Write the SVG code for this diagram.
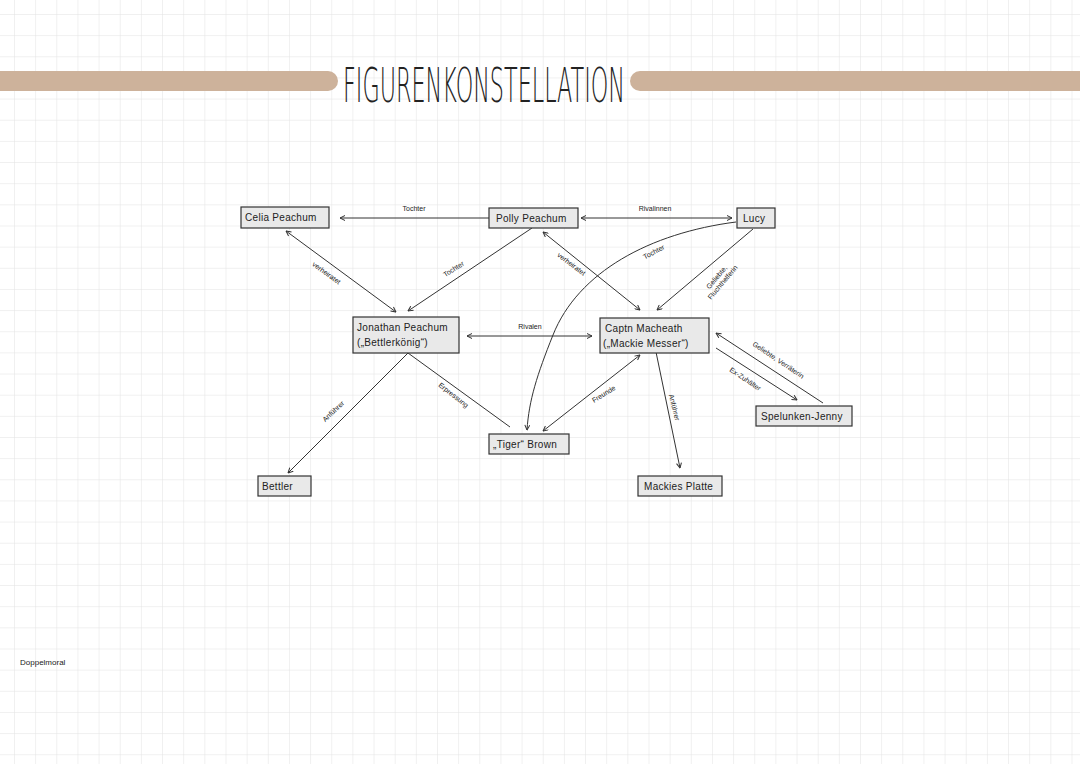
<svg xmlns="http://www.w3.org/2000/svg" width="1080" height="764" viewBox="0 0 1080 764">
<defs>
<pattern id="grid" patternUnits="userSpaceOnUse" x="14" y="14" width="21.15" height="21.15">
<path d="M0 0 H21.15 M0 0 V21.15" stroke="#e2e2e2" stroke-width="1" fill="none"/>
</pattern>
<marker id="ah" viewBox="0 0 6 6" refX="5.5" refY="3" markerWidth="6" markerHeight="6" markerUnits="userSpaceOnUse" orient="auto-start-reverse">
<path d="M0.5 0.5 L5.5 3 L0.5 5.5" fill="none" stroke="#333" stroke-width="1"/>
</marker>
<style>
.box{fill:#e9e9e9;stroke:#333;stroke-width:1.2}
.nt{font-family:"Liberation Sans",Arial,sans-serif;font-size:10px;fill:#222;letter-spacing:0.3px}
.lb{font-family:"Liberation Sans",Arial,sans-serif;font-size:7px;fill:#222;text-anchor:middle}
.ln{fill:none;stroke:#333;stroke-width:1}
.band{fill:#cdb29b}
</style>
</defs>
<rect width="1080" height="764" fill="#ffffff"/>
<rect width="1080" height="764" fill="url(#grid)"/>
<g id="header">
<path class="band" d="M0 71 H328 A10 10 0 0 1 328 91 H0 Z"/>
<path class="band" d="M1080 71 H640 A10 10 0 0 0 640 91 H1080 Z"/>
<text x="343" y="102" font-family="DejaVu Sans,sans-serif" font-weight="200" font-size="48" fill="#222" textLength="282" lengthAdjust="spacingAndGlyphs">FIGURENKONSTELLATION</text>
</g>
<g id="connectors">
<line class="ln" x1="489" y1="218" x2="340" y2="218" marker-end="url(#ah)"/>
<line class="ln" x1="581" y1="218" x2="732" y2="218" marker-start="url(#ah)" marker-end="url(#ah)"/>
<line class="ln" x1="286" y1="231" x2="396" y2="312" marker-start="url(#ah)" marker-end="url(#ah)"/>
<line class="ln" x1="532" y1="228" x2="408" y2="311" marker-end="url(#ah)"/>
<line class="ln" x1="543" y1="232" x2="640" y2="310" marker-start="url(#ah)" marker-end="url(#ah)"/>
<line class="ln" x1="753" y1="229" x2="657" y2="310" marker-end="url(#ah)"/>
<path class="ln" d="M736 222 C650 233 578 272 553 335 C537 375 529 400 527 430" marker-end="url(#ah)"/>
<line class="ln" x1="467" y1="336" x2="592" y2="336" marker-start="url(#ah)" marker-end="url(#ah)"/>
<line class="ln" x1="716" y1="333" x2="823" y2="403" marker-start="url(#ah)"/>
<line class="ln" x1="716" y1="348" x2="797" y2="400" marker-end="url(#ah)"/>
<line class="ln" x1="408" y1="353" x2="288" y2="473" marker-end="url(#ah)"/>
<line class="ln" x1="408" y1="353" x2="510" y2="427"/>
<line class="ln" x1="640" y1="355" x2="543" y2="431" marker-start="url(#ah)" marker-end="url(#ah)"/>
<line class="ln" x1="656" y1="352" x2="680" y2="468" marker-end="url(#ah)"/>
<text class="lb" x="414" y="211">Tochter</text>
<text class="lb" x="655" y="211">Rivalinnen</text>
<text class="lb" transform="translate(325,275) rotate(36)">verheiratet</text>
<text class="lb" transform="translate(455,271) rotate(-33)">Tochter</text>
<text class="lb" transform="translate(570,266) rotate(37)">verheiratet</text>
<text class="lb" transform="translate(655,254) rotate(-28)">Tochter</text>
<text class="lb" transform="translate(720,280) rotate(-50)"><tspan x="0" dy="-2">Geliebte,</tspan><tspan x="0" dy="8">Fluchthelferin</tspan></text>
<text class="lb" x="530" y="329">Rivalen</text>
<text class="lb" transform="translate(777,362) rotate(34)">Geliebte, Verräterin</text>
<text class="lb" transform="translate(744,381) rotate(34)">Ex-Zuhälter</text>
<text class="lb" transform="translate(335,413) rotate(-43)">Anführer</text>
<text class="lb" transform="translate(452,397) rotate(38)">Erpressung</text>
<text class="lb" transform="translate(605,396) rotate(-32)">Freunde</text>
<text class="lb" transform="translate(672,408) rotate(76)">Anführer</text>
</g>
<g id="celia"><rect class="box" x="241" y="207" width="88" height="21"/><text class="nt" x="245" y="221">Celia Peachum</text></g>
<g id="polly"><rect class="box" x="489" y="208" width="89" height="20"/><text class="nt" x="496" y="222">Polly Peachum</text></g>
<g id="lucy"><rect class="box" x="737" y="208" width="38" height="20"/><text class="nt" x="743" y="222">Lucy</text></g>
<g id="jonathan"><rect class="box" x="353" y="317" width="106" height="36"/><text class="nt" x="357" y="331">Jonathan Peachum</text><text class="nt" x="357" y="346">(„Bettlerkönig“)</text></g>
<g id="macheath"><rect class="box" x="600" y="318" width="109" height="35"/><text class="nt" x="605" y="332">Captn Macheath</text><text class="nt" x="603" y="347">(„Mackie Messer“)</text></g>
<g id="jenny"><rect class="box" x="756" y="406" width="96" height="20"/><text class="nt" x="761" y="420">Spelunken-Jenny</text></g>
<g id="brown"><rect class="box" x="489" y="434" width="80" height="20"/><text class="nt" x="493" y="448">„Tiger“ Brown</text></g>
<g id="platte"><rect class="box" x="638" y="476" width="84" height="20"/><text class="nt" x="644" y="490">Mackies Platte</text></g>
<g id="bettler"><rect class="box" x="258" y="476" width="53" height="20"/><text class="nt" x="262" y="490">Bettler</text></g>
<text x="20" y="665" font-family="Liberation Sans,Arial,sans-serif" font-size="8" fill="#222">Doppelmoral</text>
</svg>
